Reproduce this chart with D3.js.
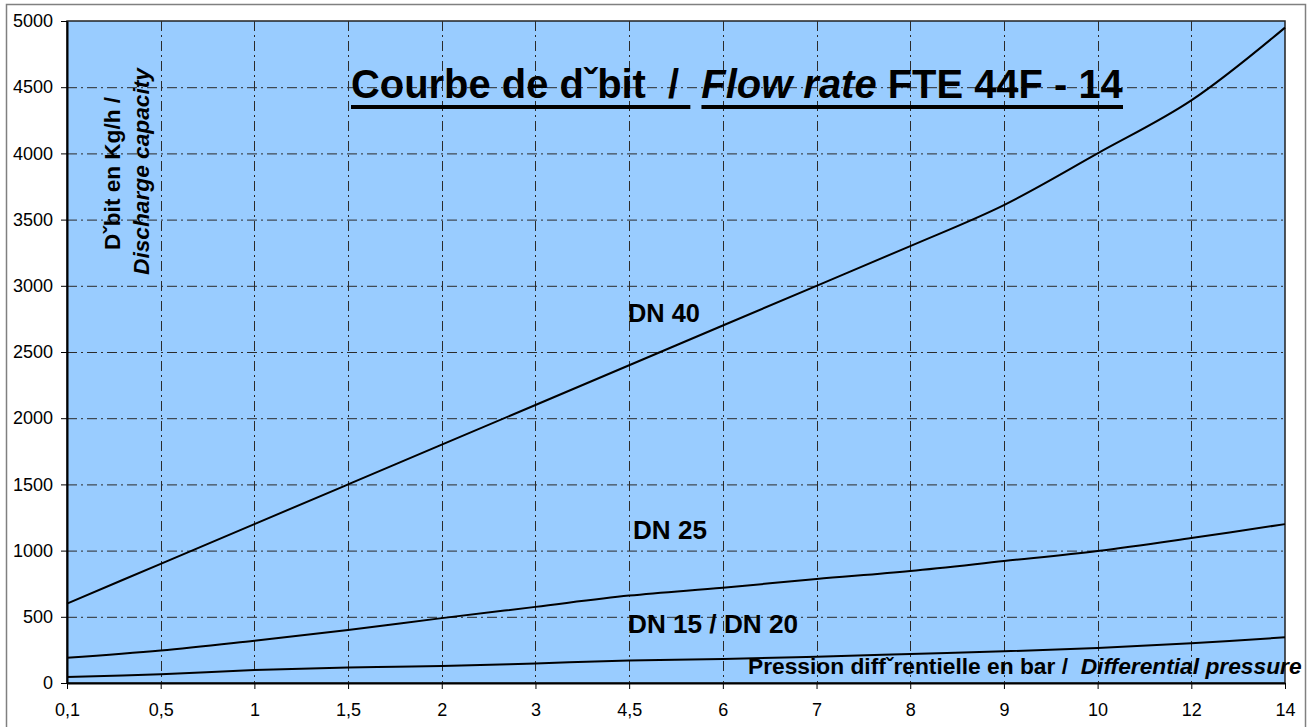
<!DOCTYPE html>
<html>
<head>
<meta charset="utf-8">
<script src="https://cdn.jsdelivr.net/npm/d3@7"></script>
<style>
  body { margin: 0; background: #fff; }
  svg { display: block; font-family: "Liberation Sans", Arial, sans-serif; }
  text { white-space: pre; }
</style>
</head>
<body>
<svg id="chart" width="1316" height="727"></svg>
<script>
const pressures = ['0,1', '0,5', '1', '1,5', '2', '3', '4,5', '6', '7', '8', '9', '10', '12', '14'];
const dn40 = [600, 900, 1200, 1500, 1800, 2100, 2400, 2700, 3000, 3300, 3610, 4000, 4400, 4950];
const dn25 = [190, 245, 320, 400, 490, 575, 660, 720, 785, 846, 921, 997, 1095, 1200];
const dn1520 = [45, 66, 98, 118, 128, 148, 169, 181, 199, 219, 239, 264, 300, 345];
const yTicks = [0, 500, 1000, 1500, 2000, 2500, 3000, 3500, 4000, 4500, 5000];

const svg = d3.select('#chart');

const plotL = 67, plotR = 1285, plotT = 21, plotB = 683;

// outer frame
svg.append('rect')
  .attr('x', 6.5).attr('y', 4.5)
  .attr('width', 1299).attr('height', 760)
  .attr('fill', '#fff')
  .attr('stroke', '#808080')
  .attr('stroke-width', 1.5);

const x = d3.scalePoint().domain(pressures).range([plotL, plotR]).padding(0);
const y = d3.scaleLinear().domain([0, 5000]).range([plotB, plotT]);

svg.append('rect')
  .attr('x', plotL).attr('y', plotT)
  .attr('width', plotR - plotL).attr('height', plotB - plotT)
  .attr('fill', '#99ccff')
  .attr('stroke', '#222')
  .attr('stroke-width', 1.5);

// grid
const grid = svg.append('g')
  .attr('stroke', '#2b2b2b')
  .attr('stroke-width', 1)
  .attr('stroke-dasharray', '10,4,2,4');

grid.selectAll('line.h')
  .data(yTicks.slice(1, -1))
  .enter()
  .append('line')
  .attr('class', 'h')
  .attr('x1', plotL).attr('x2', plotR)
  .attr('y1', d => y(d) + 0.5).attr('y2', d => y(d) + 0.5);

grid.selectAll('line.v')
  .data(pressures.slice(1, -1))
  .enter()
  .append('line')
  .attr('class', 'v')
  .attr('x1', d => Math.round(x(d)) + 0.5).attr('x2', d => Math.round(x(d)) + 0.5)
  .attr('y1', plotT).attr('y2', plotB);

// axes
const xAxis = svg.append('g')
  .attr('transform', `translate(0,${plotB})`)
  .call(d3.axisBottom(x).tickSize(6).tickPadding(14).tickSizeOuter(0));

const yAxis = svg.append('g')
  .attr('transform', `translate(${plotL},0)`)
  .call(d3.axisLeft(y).tickValues(yTicks).tickFormat(d3.format('d')).tickSize(6).tickPadding(8).tickSizeOuter(0));

[xAxis, yAxis].forEach(a => {
  a.select('.domain').attr('stroke', '#000').attr('stroke-width', 2);
  a.selectAll('.tick line').attr('stroke', '#000').attr('stroke-width', 1);
  a.selectAll('.tick text')
    .attr('font-family', '"Liberation Sans", Arial, sans-serif')
    .attr('font-size', '18px')
    .attr('fill', '#000');
});

// curves
const line = d3.line()
  .x((d, i) => x(pressures[i]))
  .y(d => y(d))
  .curve(d3.curveCatmullRom.alpha(0.5));

svg.selectAll('path.serie')
  .data([dn40, dn25, dn1520])
  .enter()
  .append('path')
  .attr('class', 'serie')
  .attr('d', line)
  .attr('fill', 'none')
  .attr('stroke', '#000')
  .attr('stroke-width', 2);

// series labels
const labels = [
  { text: 'DN 40', x: 628, y: 322, w: 72 },
  { text: 'DN 25', x: 633, y: 539, w: 74 },
  { text: 'DN 15 / DN 20', x: 628, y: 633, w: 170 }
];
svg.selectAll('text.lbl')
  .data(labels)
  .enter()
  .append('text')
  .attr('class', 'lbl')
  .attr('x', d => d.x).attr('y', d => d.y)
  .attr('font-size', '25px')
  .attr('font-weight', 'bold')
  .attr('textLength', d => d.w)
  .attr('lengthAdjust', 'spacingAndGlyphs')
  .text(d => d.text);

// title with broken underline
const tg = svg.append('g');
const title = tg.append('text')
  .attr('font-size', '40px')
  .attr('font-weight', 'bold');
const t1 = title.append('tspan').text('Courbe de dˇbit  / ');
const t2 = title.append('tspan').text(' ');
title.append('tspan').attr('font-style', 'italic').text('Flow rate');
title.append('tspan').text(' FTE 44F - 14');

const total = title.node().getComputedTextLength();
const w1 = t1.node().getComputedTextLength();
const w2 = t2.node().getComputedTextLength();
tg.attr('transform', `translate(351,98) scale(${772 / total},1)`);
tg.append('rect').attr('x', 0).attr('y', 7).attr('width', w1).attr('height', 4).attr('fill', '#000');
tg.append('rect').attr('x', w1 + w2).attr('y', 7).attr('width', total - w1 - w2).attr('height', 4).attr('fill', '#000');

// axis titles
const xg = svg.append('g');
const xTitle = xg.append('text')
  .attr('font-size', '22px')
  .attr('font-weight', 'bold');
xTitle.append('tspan').text('Pression diffˇrentielle en bar /  ');
xTitle.append('tspan').attr('font-style', 'italic').text('Differential pressure');
const xw = xTitle.node().getComputedTextLength();
xg.attr('transform', `translate(748,674) scale(${554 / xw},1)`);

const yTitle = svg.append('g')
  .attr('transform', 'rotate(-90)')
  .attr('text-anchor', 'middle')
  .attr('font-size', '22px')
  .attr('font-weight', 'bold');
yTitle.append('text')
  .attr('x', -173.5).attr('y', 119.5)
  .attr('textLength', 153).attr('lengthAdjust', 'spacingAndGlyphs')
  .text('Dˇbit en Kg/h /');
yTitle.append('text')
  .attr('x', -171.5).attr('y', 148.5)
  .attr('font-style', 'italic')
  .attr('textLength', 207).attr('lengthAdjust', 'spacingAndGlyphs')
  .text('Discharge capacity');
</script>
</body>
</html>
